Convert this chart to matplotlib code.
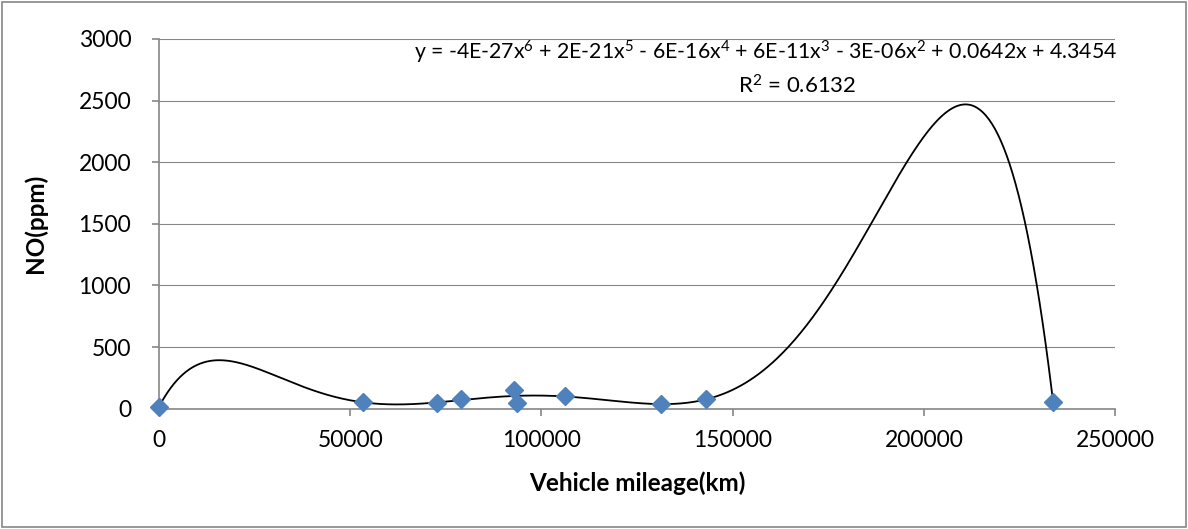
import numpy as np
import matplotlib.pyplot as plt
from matplotlib.patches import Rectangle

# Kilometraje del vehículo (km) y NO medido (ppm)
mileage_km = [0, 53400, 72800, 79100, 92900, 93600, 106200, 131200, 143000, 233800]
no_ppm = [15, 52, 44, 81, 152, 46, 106, 36, 76, 54]

x_ticks = [0, 50000, 100000, 150000, 200000, 250000]
y_ticks = [0, 500, 1000, 1500, 2000, 2500, 3000]

eq_text = ('y = -4E-27x$^{6}$ + 2E-21x$^{5}$ - 6E-16x$^{4}$ + 6E-11x$^{3}$ '
           '- 3E-06x$^{2}$ + 0.0642x + 4.3454')
r2_text = 'R$^{2}$ = 0.6132'

plt.rcParams['font.family'] = ['Lato', 'DejaVu Sans']
plt.rcParams['mathtext.fontset'] = 'custom'
plt.rcParams['mathtext.rm'] = 'Lato'
plt.rcParams['mathtext.it'] = 'Lato'
plt.rcParams['mathtext.default'] = 'regular'

# Tendencia polinómica de grado 6 (x escalado para estabilidad numérica)
xs = np.array(mileage_km) / 1e5
coef = np.polyfit(xs, no_ppm, 6)
x_fit = np.linspace(min(mileage_km), max(mileage_km), 600)
y_fit = np.polyval(coef, x_fit / 1e5)

fig = plt.figure(figsize=(11.88, 5.29), dpi=100)
ax = fig.add_axes([0.1338, 0.2274, 0.9386 - 0.1338, 0.9263 - 0.2274])

gray = '#868686'
ax.set_axisbelow(True)
ax.grid(axis='y', color=gray, linewidth=0.8)
ax.plot(x_fit, y_fit, color='black', linewidth=1.3, zorder=3)
ax.plot(mileage_km, no_ppm, linestyle='none', marker='D', markersize=9.5,
        color='#4F81BD', zorder=4, clip_on=False)

ax.set_xlim(0, 250000)
ax.set_ylim(0, 3000)
ax.set_xticks(x_ticks)
ax.set_yticks(y_ticks)
ax.set_xticklabels([str(v) for v in x_ticks])
ax.set_yticklabels([str(v) for v in y_ticks])

for s in ['top', 'right']:
    ax.spines[s].set_visible(False)
for s in ['left', 'bottom']:
    ax.spines[s].set_color(gray)
    ax.spines[s].set_linewidth(1.2)
ax.tick_params(axis='x', colors=gray, labelcolor='black', labelsize=16.5,
               length=5, width=1.2, pad=10)
ax.tick_params(axis='y', colors=gray, labelcolor='black', labelsize=16.5,
               length=5, width=1.2, pad=15)

ax.set_xlabel('Vehicle mileage(km)', fontsize=17.5, fontweight='bold', labelpad=15)
ax.set_ylabel('NO(ppm)', fontsize=17.5, fontweight='bold')
ax.yaxis.set_label_coords(-0.117, 0.5)

fig.text(766 / 1188, 1 - 52 / 529, eq_text, ha='center', va='center', fontsize=15.3)
fig.text(797 / 1188, 1 - 86 / 529, r2_text, ha='center', va='center', fontsize=16)

# Marco exterior del gráfico
fig.patches.append(Rectangle((0.002, 0.004), 0.996, 0.992, transform=fig.transFigure,
                             fill=False, edgecolor=gray, linewidth=1.2))

fig.savefig('out.png', dpi=100)
